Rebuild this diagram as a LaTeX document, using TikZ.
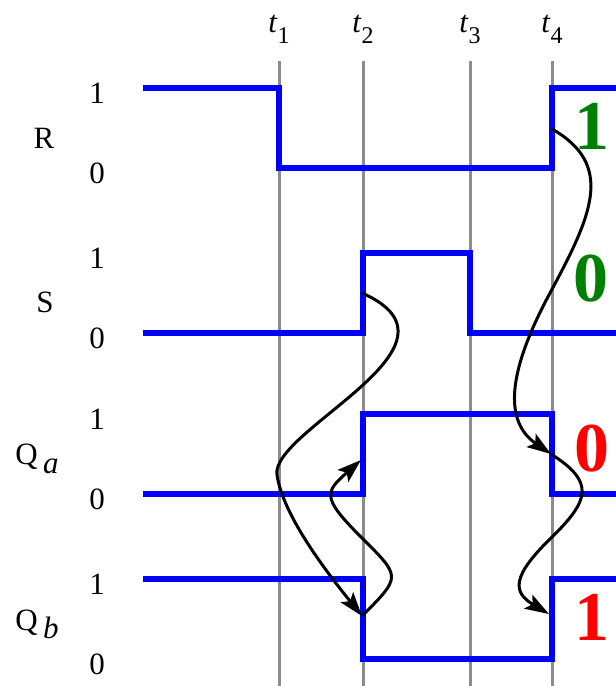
\documentclass[tikz,border=0pt]{standalone}
\usepackage{fontspec}
\setmainfont{Liberation Serif}
\usepackage{xcolor}
\usepackage{tikz}
\usetikzlibrary{arrows.meta}
\definecolor{sigblue}{RGB}{0, 0, 255}
\definecolor{stategreen}{RGB}{0, 128, 0}
\definecolor{statered}{RGB}{255, 0, 0}

\begin{document}
\begin{tikzpicture}[x=1pt, y=-1pt,
  signal/.style={draw=sigblue, line width=5.5pt},
  tick/.style={draw=black!45, line width=3pt},
  cause/.style={draw=black, line width=3pt, -{Stealth[length=24pt, width=16pt, inset=5pt]}},
  level/.style={font=\fontsize{31}{31}\selectfont, anchor=base},
  state/.style={font=\fontsize{70}{70}\selectfont\bfseries, anchor=center},
]
  % Constants
  \def\xs{143}  % signal start
  \def\xe{616}  % right edge

  \useasboundingbox (0,0) rectangle (616,686);

  % Time markers
  \foreach \x/\n in {279/1, 363/2, 470/3, 552/4} {
    \draw[tick] (\x,61) -- (\x,686);
    \node[level] (t\n) at (\x,32) {\textit{t}\raisebox{-11pt}{\fontsize{24}{24}\selectfont \n}};
  }

  % Level labels
  \foreach \y/\v in {88/1, 168/0, 253/1, 333/0, 414/1, 494/0, 579/1, 659/0} {
    \node[level] (lv\y) at (97,\y+15) {\v};
  }

  % Signal names
  \node[level] (nameR) at (44,148) {R};
  \node[level] (nameS) at (45,312) {S};
  \node[level] (nameQa) at (37,464) {Q\,\raisebox{-9pt}{\textit{a}}};
  \node[level] (nameQb) at (37,630) {Q\,\raisebox{-8pt}{\textit{b}}};

  % Waveforms
  \draw[signal] (\xs,88) -- (279,88) -- (279,168) -- (552,168) -- (552,88) -- (\xe,88);
  \draw[signal] (\xs,333) -- (363,333) -- (363,253) -- (470,253) -- (470,333) -- (\xe,333);
  \draw[signal] (\xs,494) -- (363,494) -- (363,414) -- (552,414) -- (552,494) -- (\xe,494);
  \draw[signal] (\xs,579) -- (363,579) -- (363,659) -- (552,659) -- (552,579) -- (\xe,579);

  % Edge points
  \coordinate (sRise) at (362,293);
  \coordinate (qaRise) at (361,460);
  \coordinate (qbFall) at (362,616);
  \coordinate (rRise) at (552,129);
  \coordinate (qaFall) at (551,454);
  \coordinate (qbRise) at (549,614);

  % Causal arrows at t2
  \draw[cause] (sRise) .. controls (480,345) and (270,430) .. (277,475)
    .. controls (283,515) and (325,570) .. (qbFall);
  \draw[cause] (qbFall) .. controls (402,576) and (401,577) .. (361,537)
    .. controls (321,497) and (325,492) .. (qaRise);

  % Causal arrows at t4
  \draw[cause] (rRise) .. controls (615,165) and (592,215) .. (550,293)
    .. controls (508,371) and (503,421) .. (qaFall);
  \draw[cause] (qaFall) .. controls (595,482) and (590,500) .. (551,538)
    .. controls (512,576) and (512,592) .. (qbRise);

  % Resulting states
  \node[state, stategreen] (stR) at (592,126) {1};
  \node[state, stategreen] (stS) at (591,279) {0};
  \node[state, statered] (stQa) at (592,449) {0};
  \node[state, statered] (stQb) at (592,617) {1};

\end{tikzpicture}
\end{document}
